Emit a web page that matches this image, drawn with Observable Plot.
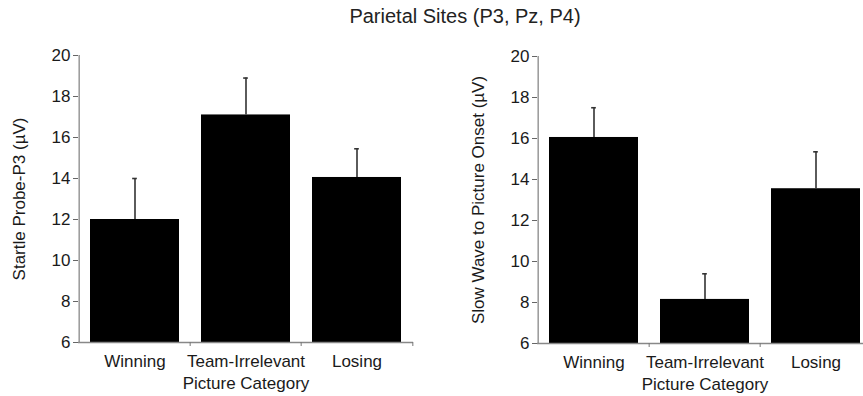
<!DOCTYPE html>
<html><head><meta charset="utf-8">
<script src="https://cdn.jsdelivr.net/npm/d3@7"></script>
<script src="https://cdn.jsdelivr.net/npm/@observablehq/plot@0.6"></script>
<style>
html,body{margin:0;padding:0;background:#fff;}
body{width:863px;height:396px;overflow:hidden;position:relative;font-family:"Liberation Sans",Arial,sans-serif;}
#title{position:absolute;left:0;width:930px;top:5px;text-align:center;font-size:20px;color:#222;}
.panel{position:absolute;top:0;}
.panel svg{max-width:none !important;}
</style></head>
<body>
<div id="title">Parietal Sites (P3, Pz, P4)</div>
<div id="left" class="panel" style="left:0px;width:430px"></div>
<div id="right" class="panel" style="left:430px;width:460px"></div>
<script>
const categories = ["Winning", "Team-Irrelevant", "Losing"];
const probeP3Means = [12.0, 17.1, 14.05];
const probeP3Upper = [14.0, 18.9, 15.45];
const slowWaveMeans = [16.05, 8.15, 13.55];
const slowWaveUpper = [17.5, 9.4, 15.35];
const yTicks = [6, 8, 10, 12, 14, 16, 18, 20];
const xLabel = "Picture Category";

function panel({means, upper, ylabel, width, ml, mr, mt, mb}) {
  const data = categories.map((c, i) => ({cat: c, mean: means[i], upper: upper[i]}));
  const step = (width - ml - mr) / 3;
  const bw = step * 0.8;
  const ink = "#333";
  return Plot.plot({
    width, height: 396,
    marginLeft: ml, marginRight: mr, marginTop: mt, marginBottom: mb,
    style: {fontFamily: '"Liberation Sans", Arial, sans-serif', fontSize: "16.5px", color: "#1a1a1a", background: "transparent"},
    x: {domain: categories, paddingInner: 0.2, paddingOuter: 0.1, axis: null},
    y: {domain: [6, 20], axis: null},
    marks: [
      Plot.barY(data, {x: "cat", y1: 6, y2: "mean", fill: "#000"}),
      Plot.ruleX(data, {x: "cat", y1: "mean", y2: "upper", stroke: ink, strokeWidth: 1.6}),
      Plot.tickY(data, {x: "cat", y: "upper", stroke: ink, strokeWidth: 1.6, insetLeft: bw / 2 - 2.5, insetRight: bw / 2 - 2.5}),
      Plot.axisY({ticks: yTicks, tickSize: 5, tickPadding: 3, stroke: "#666", fontSize: 17,
                  label: ylabel, labelAnchor: "center", labelOffset: 66, labelArrow: "none"}),
      Plot.ruleX([6], {x: () => categories[0], dx: -step / 2, y1: 6, y2: 20, stroke: "#888", strokeWidth: 1.3}),
      Plot.ruleY([6], {stroke: "#888", strokeWidth: 1.3}),
      Plot.axisX({tickSize: 0, tickPadding: 12, fontSize: 17, label: xLabel, labelAnchor: "center", labelOffset: 46, labelArrow: "none"}),
      Plot.axisX(["Team-Irrelevant", "Losing"], {tickSize: 4, text: null, label: null, dx: -step / 2, stroke: "#777"}),
      Plot.axisX(["Losing"], {tickSize: 4, text: null, label: null, dx: step / 2, stroke: "#777"})
    ]
  });
}

document.getElementById("left").append(panel({
  means: probeP3Means, upper: probeP3Upper, ylabel: "Startle Probe-P3 (µV)",
  width: 430, ml: 78, mr: 17, mt: 55, mb: 54
}));
document.getElementById("right").append(panel({
  means: slowWaveMeans, upper: slowWaveUpper, ylabel: "Slow Wave to Picture Onset (µV)",
  width: 460, ml: 107, mr: 18, mt: 56, mb: 53
}));
</script>
</body></html>
